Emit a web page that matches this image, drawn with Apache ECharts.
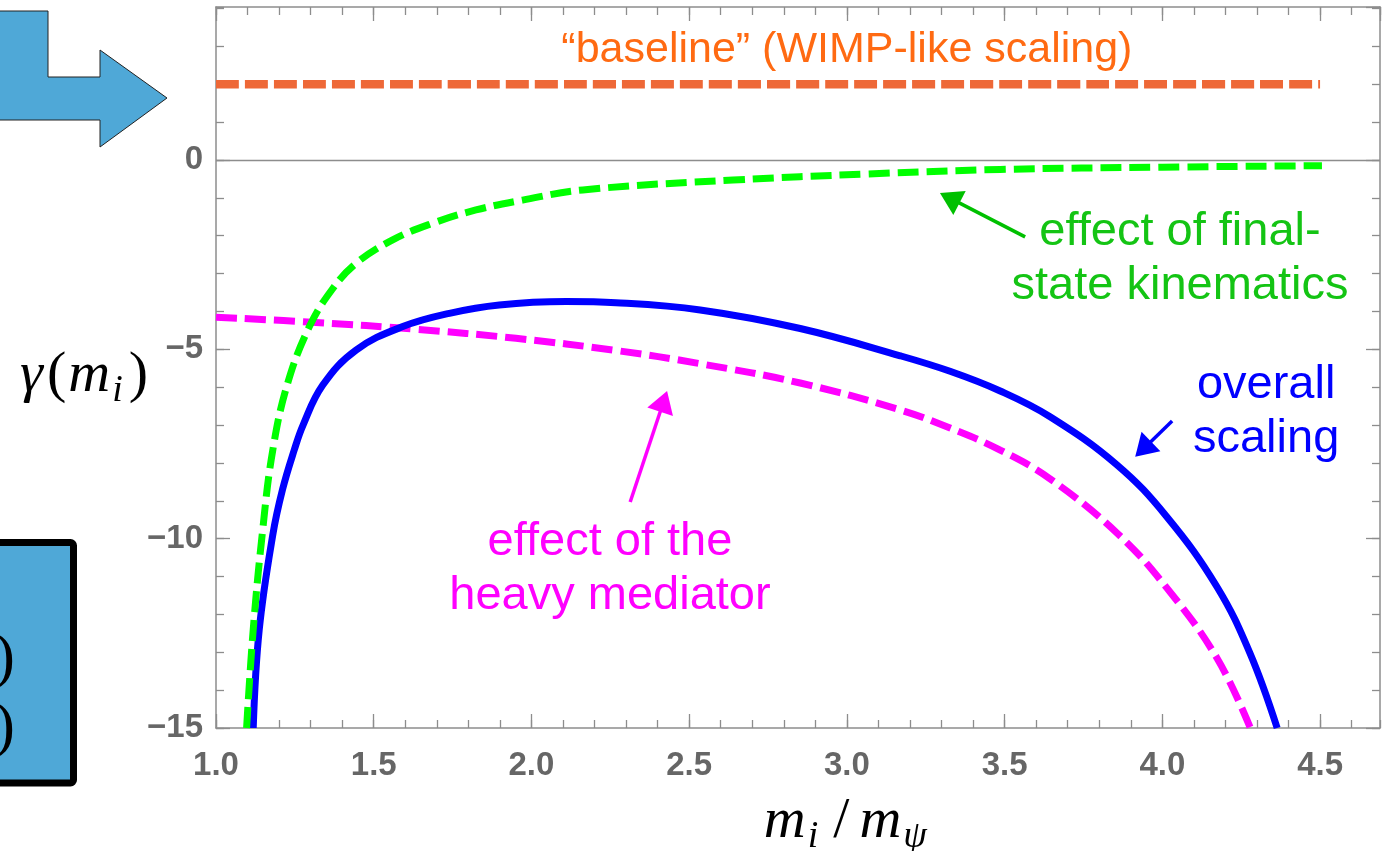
<!DOCTYPE html>
<html><head><meta charset="utf-8">
<script src="https://cdn.jsdelivr.net/npm/echarts@6/dist/echarts.min.js"></script>
<style>html,body{margin:0;padding:0;background:#fff;overflow:hidden}#c{width:1384px;height:851px}</style>
</head><body><div id="c"></div>
<script>
// ---- data ----
const xTickLabels = [1.0, 1.5, 2.0, 2.5, 3.0, 3.5, 4.0, 4.5];
const yTickLabels = [-15, -10, -5, 0];

const baselineX = [1.0, 4.5];
const baselineY = [2, 2];

const kinematicsX = [1.097, 1.118, 1.148, 1.18, 1.227, 1.296, 1.368, 1.444, 1.56, 1.687, 1.824, 1.972, 2.163, 2.639, 3.063, 3.486, 4.0, 4.506];
const kinematicsY = [-15, -12.4, -9.77, -7.66, -5.9, -4.4, -3.42, -2.73, -2.11, -1.67, -1.32, -1.06, -0.79, -0.53, -0.37, -0.25, -0.19, -0.15];

const overallX = [1.118, 1.137, 1.18, 1.211, 1.248, 1.276, 1.338, 1.444, 1.592, 1.74, 1.898, 2.11, 2.268, 2.535, 2.852, 3.169, 3.327, 3.486, 3.644, 3.856, 4.014, 4.173, 4.278, 4.364];
const overallY = [-15, -12.41, -9.9, -8.7, -7.66, -7.0, -5.95, -5.02, -4.4, -4.05, -3.83, -3.74, -3.77, -3.96, -4.45, -5.17, -5.58, -6.1, -6.78, -8.05, -9.42, -11.27, -13.03, -15];

const mediatorX = [1.0, 1.317, 1.634, 1.951, 2.268, 2.535, 2.852, 3.169, 3.327, 3.486, 3.644, 3.856, 4.014, 4.173, 4.279];
const mediatorY = [-4.15, -4.29, -4.47, -4.71, -5.03, -5.38, -5.89, -6.6, -7.08, -7.66, -8.42, -9.85, -11.3, -13.15, -15];

const zip = (a, b) => a.map((v, i) => [v, b[i]]);

const frameColor = '#8d8d8d';
const X_MIN = 1.0, X_MAX = 4.69, Y_MIN = -15, Y_MAX = 4.04;

function xAxisDef(position, interval, tickLen, labels) {
  return {
    type: 'value', min: X_MIN, max: X_MAX, interval: interval, position: position,
    axisLine: { show: labels !== null, onZero: false, lineStyle: { color: frameColor, width: 1.5 } },
    axisTick: { show: true, inside: true, length: tickLen, lineStyle: { color: frameColor, width: 1.3 } },
    axisLabel: labels ? {
      show: true, margin: 21, showMaxLabel: false,
      color: '#666', fontFamily: 'Liberation Sans', fontWeight: 'bold', fontSize: 33,
      formatter: v => xTickLabels.some(t => Math.abs(t - v) < 1e-6) ? v.toFixed(1) : ''
    } : { show: false },
    splitLine: { show: false }
  };
}
function yAxisDef(position, interval, tickLen, labels) {
  return {
    type: 'value', min: Y_MIN, max: Y_MAX, interval: interval, position: position,
    axisLine: { show: labels !== null, onZero: false, lineStyle: { color: frameColor, width: 1.5 } },
    axisTick: { show: true, inside: true, length: tickLen, lineStyle: { color: frameColor, width: 1.3 } },
    axisLabel: labels ? {
      show: true, margin: 13, showMaxLabel: false,
      color: '#666', fontFamily: 'Liberation Sans', fontWeight: 'bold', fontSize: 33,
      formatter: v => yTickLabels.some(t => Math.abs(t - v) < 1e-6) ? String(v).replace('-', '\u2212') : ''
    } : { show: false },
    splitLine: { show: false }
  };
}

const chart = echarts.init(document.getElementById('c'), null, { renderer: 'canvas' });

const lineSeries = (xs, ys, color, width, type, z) => ({
  type: 'line', xAxisIndex: 0, yAxisIndex: 0, data: zip(xs, ys),
  symbol: 'none', smooth: 0.4, silent: true, z: z,
  lineStyle: { color: color, width: width, type: type, cap: 'butt' }
});

chart.setOption({
  animation: false,
  backgroundColor: '#fff',
  grid: { left: 216, right: 4, top: 7, bottom: 123, containLabel: false },
  xAxis: [
    xAxisDef('bottom', 0.5, 14, true),
    xAxisDef('bottom', 0.1, 8, null),
    xAxisDef('top', 0.5, 14, false),
    xAxisDef('top', 0.1, 8, null)
  ],
  yAxis: [
    yAxisDef('left', 5, 14, true),
    yAxisDef('left', 1, 8, null),
    yAxisDef('right', 5, 14, false),
    yAxisDef('right', 1, 8, null)
  ],
  series: [
    Object.assign(lineSeries(baselineX, baselineY, '#ee6837', 8.5, [23, 6], 3), {
      markLine: {
        silent: true, symbol: 'none', label: { show: false },
        lineStyle: { color: frameColor, width: 1.3, type: 'solid' },
        data: [{ yAxis: 0 }]
      }
    }),
    lineSeries(mediatorX, mediatorY, '#ff00ff', 7, [21, 8], 4),
    lineSeries(overallX, overallY, '#0000ff', 7, 'solid', 5),
    lineSeries(kinematicsX, kinematicsY, '#00ff00', 7, [21, 8], 6)
  ]
});

// ---- annotations positioned through the chart's own scales ----
const notes = [
  { text: '\u201Cbaseline\u201D (WIMP-like scaling)', at: [3.0, 2.9], color: '#ff6a12', size: 43 },
  { text: 'effect of final-\nstate kinematics', at: [4.056, -2.62], color: '#14c414', size: 47 },
  { text: 'overall\nscaling', at: [4.329, -6.66], color: '#0000ff', size: 47 },
  { text: 'effect of the\nheavy mediator', at: [2.249, -10.8], color: '#ff00ff', size: 47 }
];
const arrows = [
  { from: [3.565, -2.03], to: [3.295, -0.87], color: '#00c000' },
  { from: [4.031, -6.89], to: [3.914, -7.84], color: '#0000ff' },
  { from: [2.313, -9.03], to: [2.43, -6.10], color: '#ff00ff' }
];

const P = p => chart.convertToPixel({ seriesIndex: 0 }, p);
const graphics = [];

notes.forEach(n => {
  const [px, py] = P(n.at);
  graphics.push({
    type: 'text', x: px, y: py, z: 50, silent: true,
    style: {
      text: n.text, fill: n.color, fontFamily: 'Liberation Sans', fontSize: n.size,
      align: 'center', verticalAlign: 'middle', lineHeight: 54
    }
  });
});

arrows.forEach(a => {
  const [x1, y1] = P(a.from), [x2, y2] = P(a.to);
  const dx = x2 - x1, dy = y2 - y1, L = Math.hypot(dx, dy);
  const ux = dx / L, uy = dy / L, headLen = 22, half = 13.5;
  const bx = x2 - ux * headLen, by = y2 - uy * headLen;
  graphics.push({
    type: 'line', z: 50, silent: true,
    shape: { x1: x1, y1: y1, x2: bx + ux * 2, y2: by + uy * 2 },
    style: { stroke: a.color, lineWidth: 3.5 }
  });
  graphics.push({
    type: 'polygon', z: 50, silent: true,
    shape: { points: [[x2, y2], [bx - uy * half, by + ux * half], [bx + uy * half, by - ux * half]] },
    style: { fill: a.color }
  });
});

// axis titles (math-style italic)
const serifM = { fontFamily: 'Liberation Serif', fontStyle: 'italic', fontSize: 58, fill: '#000', height: 66 };
const serifS = { fontFamily: 'Liberation Serif', fontStyle: 'italic', fontSize: 38, fill: '#000', height: 66 };
const [xtX, xtY] = P([3.0, Y_MIN]);
graphics.push({
  type: 'text', x: xtX, y: xtY + 94, z: 50, silent: true,
  style: {
    text: '{m|m}{s|i}{sl|/}{m|m}{s|\u03C8}', align: 'center', verticalAlign: 'middle',
    rich: {
      m: serifM,
      sl: Object.assign({}, serifM, { fontStyle: 'normal', padding: [0, 10, 0, 12] }),
      s: Object.assign({}, serifS, { padding: [30, 3, 0, 2] })
    }
  }
});
const [ytX, ytY] = P([X_MIN, -5.7]);
graphics.push({
  type: 'text', x: ytX - 68, y: ytY, z: 50, silent: true,
  style: {
    text: '{g|\u03B3}{p|(}{m|m}{s|i}{p|)}', align: 'right', verticalAlign: 'middle',
    rich: {
      g: Object.assign({}, serifM, { padding: [0, 4, 0, 0] }),
      p: Object.assign({}, serifM, { fontStyle: 'normal' }),
      m: Object.assign({}, serifM, { padding: [0, 0, 0, 2] }),
      s: Object.assign({}, serifS, { padding: [30, 6, 0, 2] })
    }
  }
});

// decorative slide shapes cropped at the left edge
graphics.push({
  type: 'polygon', z: 40, silent: true,
  shape: { points: [[-10, 11], [48, 11], [48, 77], [100, 77], [100, 50], [167, 98], [100, 147], [100, 120], [-10, 120]] },
  style: { fill: '#4fa8d7', stroke: '#222', lineWidth: 1 }
});
graphics.push({
  type: 'rect', z: 40, silent: true,
  shape: { x: -30, y: 542.5, width: 103.5, height: 240.5, r: 3 },
  style: { fill: '#4fa8d7', stroke: '#000', lineWidth: 7 }
});
graphics.push({
  type: 'text', x: 15, y: 660, z: 41, silent: true,
  style: { text: ')', fill: '#000', fontFamily: 'Liberation Serif', fontSize: 62, align: 'right', verticalAlign: 'middle' }
});
graphics.push({
  type: 'text', x: 15, y: 729, z: 41, silent: true,
  style: { text: ')', fill: '#000', fontFamily: 'Liberation Serif', fontSize: 62, align: 'right', verticalAlign: 'middle' }
});

chart.setOption({ graphic: graphics });
</script>
</body></html>
